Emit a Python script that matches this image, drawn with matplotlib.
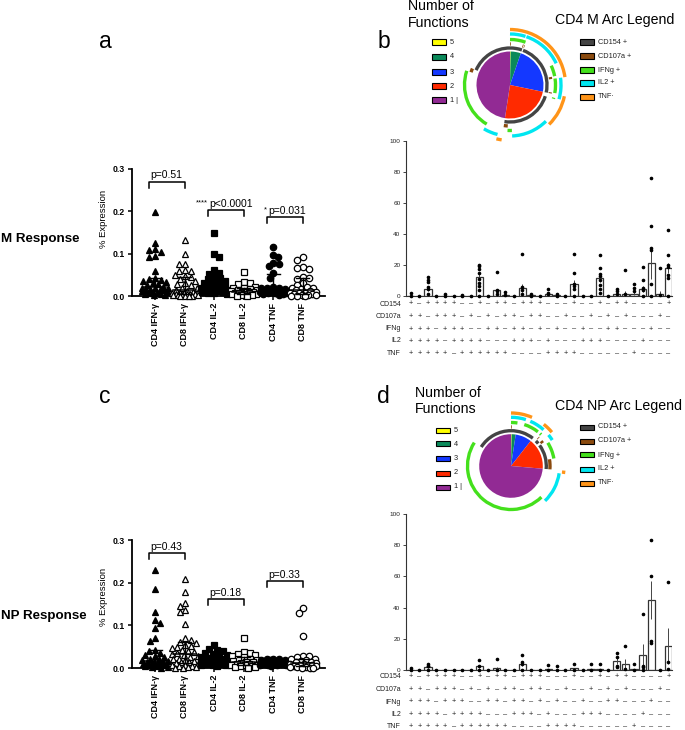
import numpy as np
import matplotlib
matplotlib.use("Agg")
import matplotlib.pyplot as plt
from matplotlib.patches import Arc, Rectangle

plt.rcParams["font.family"] = ["Liberation Sans", "DejaVu Sans"]

# ---------------- data ----------------
groups = ["CD4 IFN-γ", "CD8 IFN-γ", "CD4 IL-2", "CD8 IL-2", "CD4 TNF", "CD8 TNF"]

# M response (% expression per donor)
cd4_ifng_m = [0.199, 0.125, 0.11, 0.108, 0.105, 0.095, 0.093, 0.058, 0.042, 0.04, 0.038,
              0.035, 0.032, 0.03, 0.028, 0.025, 0.022, 0.02, 0.019, 0.018, 0.016, 0.015,
              0.014, 0.013, 0.012, 0.01, 0.009, 0.008, 0.006, 0.005, 0.004, 0.003, 0.002]
cd8_ifng_m = [0.133, 0.1, 0.075, 0.075, 0.062, 0.06, 0.058, 0.05, 0.047, 0.045, 0.04,
              0.035, 0.03, 0.028, 0.025, 0.02, 0.018, 0.015, 0.012, 0.01, 0.009, 0.008,
              0.007, 0.006, 0.005, 0.005, 0.004, 0.004, 0.003, 0.003, 0.002, 0.002, 0.001,
              0.001, 0.0, 0.0]
cd4_il2_m = [0.15, 0.1, 0.092, 0.061, 0.055, 0.053, 0.045, 0.042, 0.04, 0.035, 0.032, 0.03,
             0.028, 0.025, 0.022, 0.02, 0.02, 0.018, 0.016, 0.015, 0.014, 0.012, 0.01, 0.01,
             0.008, 0.006, 0.005]
cd8_il2_m = [0.056, 0.032, 0.03, 0.028, 0.022, 0.02, 0.018, 0.016, 0.015, 0.013, 0.012, 0.01,
             0.01, 0.009, 0.008, 0.007, 0.006, 0.005, 0.005, 0.004, 0.003, 0.002, 0.001, 0.0]
cd4_tnf_m = [0.116, 0.098, 0.091, 0.079, 0.075, 0.07, 0.054, 0.043, 0.022, 0.02, 0.019,
             0.018, 0.016, 0.015, 0.014, 0.012, 0.011, 0.01, 0.01, 0.009, 0.008, 0.007,
             0.006, 0.005, 0.004, 0.003]
cd8_tnf_m = [0.091, 0.086, 0.068, 0.066, 0.064, 0.045, 0.043, 0.041, 0.03, 0.025, 0.021,
             0.02, 0.019, 0.016, 0.014, 0.012, 0.01, 0.008, 0.007, 0.006, 0.005, 0.004,
             0.003, 0.002, 0.002, 0.001, 0.0, 0.0]

# NP response
cd4_ifng_np = [0.229, 0.184, 0.131, 0.112, 0.106, 0.094, 0.07, 0.063, 0.042, 0.04, 0.034,
               0.03, 0.028, 0.025, 0.022, 0.02, 0.018, 0.016, 0.015, 0.014, 0.013, 0.012,
               0.011, 0.01, 0.01, 0.009, 0.008, 0.007, 0.006, 0.005, 0.004, 0.003, 0.002,
               0.001]
cd8_ifng_np = [0.209, 0.179, 0.153, 0.145, 0.137, 0.131, 0.104, 0.07, 0.066, 0.062, 0.058,
               0.055, 0.052, 0.05, 0.047, 0.043, 0.04, 0.038, 0.035, 0.032, 0.03, 0.028,
               0.025, 0.022, 0.02, 0.018, 0.016, 0.015, 0.013, 0.011, 0.01, 0.008, 0.007,
               0.005, 0.004, 0.003, 0.002, 0.001, 0.0]
cd4_il2_np = [0.053, 0.045, 0.042, 0.04, 0.035, 0.032, 0.03, 0.028, 0.025, 0.022, 0.02, 0.02,
              0.018, 0.016, 0.015, 0.014, 0.013, 0.012, 0.011, 0.01, 0.01, 0.009, 0.008,
              0.007, 0.006, 0.005]
cd8_il2_np = [0.07, 0.038, 0.036, 0.033, 0.03, 0.028, 0.025, 0.022, 0.02, 0.018, 0.016,
              0.015, 0.013, 0.012, 0.01, 0.009, 0.008, 0.007, 0.006, 0.005, 0.004, 0.003,
              0.002, 0.001]
cd4_tnf_np = [0.021, 0.02, 0.02, 0.019, 0.018, 0.018, 0.017, 0.016, 0.015, 0.015, 0.014,
              0.013, 0.012, 0.012, 0.011, 0.011, 0.01, 0.01, 0.01, 0.009, 0.009, 0.008,
              0.008, 0.007, 0.006, 0.005]
cd8_tnf_np = [0.14, 0.13, 0.075, 0.028, 0.027, 0.025, 0.022, 0.02, 0.018, 0.016, 0.015,
              0.013, 0.012, 0.01, 0.009, 0.008, 0.007, 0.006, 0.005, 0.004, 0.003, 0.002,
              0.002, 0.001, 0.0, 0.0]

# comparisons: (group i, group j, bracket height, stars, label)
brackets_m = [(0, 1, 0.27, "", "p=0.51"), (2, 3, 0.203, "****", "p<0.0001"),
              (4, 5, 0.187, "*", "p=0.031")]
brackets_np = [(0, 1, 0.269, "", "p=0.43"), (2, 3, 0.161, "", "p=0.18"),
               (4, 5, 0.204, "", "p=0.33")]

# SPICE combinations, marker order CD154 / CD107a / IFNg / IL2 / TNF
markers = ["CD154", "CD107a", "IFNg", "IL2", "TNF"]
combos = ["+++++",
          "-++++", "+-+++", "++-++", "+++-+", "++++-",
          "--+++", "-+-++", "+--++", "-++-+", "+-+-+", "++--+", "-+++-", "+-++-", "++-+-", "+++--",
          "---++", "--+-+", "-+--+", "+---+", "--++-", "-+-+-", "+--+-", "-++--", "+-+--", "++---",
          "----+", "---+-", "--+--", "-+---", "+----"]

# CD4 M: mean % of response per combination, SEM, donor points
means_m = [0.3, 0.0, 4.5, 0.0, 0.3, 0.0, 0.3, 0.2, 12.0, 0.0, 3.8, 0.8, 0.0, 5.0, 0.4, 0.0,
           1.2, 0.4, 0.0, 7.5, 0.0, 0.0, 11.5, 0.0, 1.5, 1.5, 1.5, 4.5, 21.0, 1.5, 18.0]
sem_m = [0, 0, 1.3, 0, 0, 0, 0, 0, 2.0, 0, 1.0, 0.3, 0, 2.5, 0, 0,
         0.5, 0, 0, 2.5, 0, 0, 2.5, 0, 0.8, 1.6, 0.8, 2.0, 10.0, 1.6, 3.5]
dots_m = [[2, 0], [0], [12.4, 10.2, 8.8, 6, 4.3, 1], [0], [1, 0], [0], [0.5, 0], [0],
          [20, 19, 17.2, 15, 10.7, 8.6, 6.4, 3.6, 0], [0], [15.7, 4, 3, 1], [2.5, 0.5], [0],
          [26.8, 6, 4, 1], [1, 0], [0],
          [4.5, 2, 1], [1, 0], [0], [27, 14.6, 7.7, 6.4, 4.3, 0], [0], [0],
          [26.4, 18.2, 14.2, 13, 10.3, 7.3, 4.3, 1.7], [0], [4.5, 3.5, 1], [16.7, 1],
          [7.7, 5, 3], [18.9, 10.3, 5, 3.9, 0], [75.8, 45, 30.7, 29.6, 7.7, 0], [17.8, 0.5],
          [42.5, 26.4, 20, 18.9, 13.5, 11.8, 0]]

# CD4 NP
means_np = [0.3, 0.0, 2.0, 0.0, 0.0, 0.0, 0.0, 0.0, 2.5, 0.0, 1.5, 0.0, 0.0, 4.0, 0.0, 0.0,
            1.0, 0.5, 0.3, 1.5, 0.0, 1.0, 1.0, 0.0, 6.0, 4.0, 1.0, 10.0, 45.0, 0.0, 15.5]
sem_np = [0, 0, 0.6, 0, 0, 0, 0, 0, 0.8, 0, 0.8, 0, 0, 1.2, 0, 0,
          0, 0, 0, 0, 0, 0, 0, 0, 2.0, 3.0, 0, 7.0, 12.0, 0, 11.5]
dots_np = [[1.5, 0], [0], [4, 3, 2.5, 0], [0], [0], [0], [0], [0],
           [6.5, 2.5, 0], [0], [7, 0], [0], [0], [9.5, 5, 4, 0], [0], [0],
           [3.5, 0], [3, 0], [0], [4, 0], [0], [4, 0], [4, 0], [0],
           [11, 8.5, 3, 2], [15.5, 1], [4, 0], [36, 3, 2, 0], [83.5, 60, 19, 17.5], [0],
           [56.5, 5, 1]]

func_labels = ["5", "4", "3", "2", "1 |"]
func_colors = ["#ffff00", "#0a8a5a", "#1438ff", "#ff2a00", "#922a94"]
arc_labels = ["CD154 +", "CD107a +", "IFNg +", "IL2 +", "TNF·"]
arc_colors = ["#444444", "#8a4a0e", "#44e01c", "#00e6f0", "#ff9418"]

# ---------------- helpers ----------------
W, H = 685, 730
fig = plt.figure(figsize=(W / 100, H / 100), dpi=100)


def px_axes(x0, y0, x1, y1):
    """Axes from a pixel box measured from the top-left corner."""
    return fig.add_axes([x0 / W, 1 - y1 / H, (x1 - x0) / W, (y1 - y0) / H])


def ftext(x, y, s, **kw):
    fig.text(x / W, 1 - y / H, s, **kw)


def swarm(vals, ppu, cat_px=29.5, size_px=5.5, half_px=13.0):
    """Beeswarm offsets (in category units), placing points from the top down."""
    vals = np.asarray(vals, float)
    ys = vals * ppu
    cand = np.arange(-half_px, half_px + 0.01, 1.0)
    cand = cand[np.argsort(np.abs(cand) + (cand > 0) * 0.01, kind="stable")]
    px_, py_ = [], []
    offs = np.zeros(len(vals))
    for n, i in enumerate(np.argsort(-vals, kind="stable")):
        sign = 1 if n % 2 else -1
        best, best_d = 0.0, -1.0
        for c in cand * sign:
            d = np.min(np.hypot(np.array(px_) - c, np.array(py_) - ys[i])) if px_ else np.inf
            if d >= size_px:
                best = c
                break
            if d > best_d:
                best, best_d = c, d
        offs[i] = best
        px_.append(best)
        py_.append(ys[i])
    return offs / cat_px


def scatter_panel(top, bottom, series, brackets):
    ax = px_axes(132, top, 325, bottom)
    ppu = (bottom - top) / 0.3
    shapes = ["^", "^", "s", "s", "o", "o"]
    sizes = [4.6, 4.6, 4.0, 4.0, 4.6, 4.6]
    for i, vals in enumerate(series):
        vals = np.asarray(vals, float)
        filled = i % 2 == 0
        ax.plot(i + swarm(vals, ppu), vals, ls="none", marker=shapes[i], ms=sizes[i],
                mfc="black" if filled else "white", mec="black", mew=0.9,
                clip_on=False, zorder=3)
        med = np.median(vals)
        q1, q3 = np.percentile(vals, [25, 75])
        ax.plot([i - 0.38, i + 0.38], [med, med], color="black", lw=1.1, zorder=4)
        ax.plot([i, i], [q1, q3], color="black", lw=1.0, zorder=4)
        for q in (q1, q3):
            ax.plot([i - 0.22, i + 0.22], [q, q], color="black", lw=1.0, zorder=4)
    for i, j, y, stars, label in brackets:
        x0, x1 = i - 0.22, j + 0.02
        ax.plot([x0, x0, x1, x1], [y - 0.014, y, y, y - 0.014], color="black", lw=1.1,
                clip_on=False)
        ax.text(x0 + 0.05, y + 0.003, label, ha="left", va="bottom", fontsize=7.5)
        if stars:
            ax.text(x0, y + 0.009, stars, ha="right", va="bottom", fontsize=5.5)
    ax.set_xlim(-0.78, 5.76)
    ax.set_ylim(0, 0.3)
    for s in ("top", "right"):
        ax.spines[s].set_visible(False)
    for s in ("left", "bottom"):
        ax.spines[s].set_linewidth(1.3)
    ax.set_yticks([0, 0.1, 0.2, 0.3])
    ax.set_yticklabels(["0.0", "0.1", "0.2", "0.3"], fontsize=6.2, fontweight="bold")
    ax.set_xticks(range(len(groups)))
    ax.set_xticklabels(groups, rotation=90, fontsize=6.5, fontweight="bold")
    ax.tick_params(length=3, width=1.1, pad=2)
    ax.patch.set_alpha(0)
    return ax


def bar_panel(top, bottom, means, sem, dots, row_ys):
    ax = px_axes(406, top, 672, bottom)
    xs = np.arange(len(combos))
    ax.bar(xs, means, width=0.84, facecolor="white", edgecolor="#333333", lw=0.9, zorder=2)
    ax.errorbar(xs, means, yerr=sem, fmt="none", ecolor="#444444", elinewidth=0.7,
                capsize=0, zorder=3)
    for i, d in enumerate(dots):
        ax.plot([i] * len(d), d, ls="none", marker="o", ms=1.6, color="black",
                clip_on=False, zorder=4)
    ax.set_xlim(-0.55, 30.42)
    ax.set_ylim(0, 100)
    for s in ("top", "right"):
        ax.spines[s].set_visible(False)
    for s in ("left", "bottom"):
        ax.spines[s].set_linewidth(0.8)
        ax.spines[s].set_color("#333333")
    ax.set_xticks([])
    ax.set_yticks(range(0, 101, 20))
    ax.tick_params(axis="y", length=2.5, width=0.6, pad=1.5, labelsize=4.6,
                   colors="#222222")
    h = bottom - top
    for k, (name, y) in enumerate(zip(markers, row_ys)):
        ftext(401, y, name, fontsize=5, ha="right", va="center", color="#222222")
        for i, c in enumerate(combos):
            ax.text(i, (bottom - y) / h, c[k].replace("-", "–"),
                    transform=ax.get_xaxis_transform(),
                    ha="center", va="center", fontsize=5.3, color="#222222")
    return ax


def pie_panel(cx, cy, r_pie, means, ring_r):
    ax = px_axes(cx - 70, cy - 70, cx + 70, cy + 70)
    means = np.asarray(means, float)
    nfun = np.array([c.count("+") for c in combos])
    sizes = [means[nfun == k].sum() for k in (5, 4, 3, 2, 1)]
    ax.pie(sizes, colors=func_colors, radius=r_pie, startangle=90, counterclock=False,
           wedgeprops=dict(linewidth=0))
    edges = np.concatenate([[0], np.cumsum(means / means.sum())]) * 360
    for k, (col, rr) in enumerate(zip(arc_colors, ring_r)):
        runs, start = [], None
        for c, a0, a1 in zip(combos, edges[:-1], edges[1:]):
            if a1 - a0 <= 0:
                continue
            if c[k] == "+":
                if start is None:
                    start = a0
                end = a1
            elif start is not None:
                runs.append((start, end))
                start = None
        if start is not None:
            runs.append((start, end))
        for a0, a1 in runs:
            ax.add_patch(Arc((0, 0), 2 * rr, 2 * rr, theta1=90 - a1, theta2=90 - a0,
                             color=col, lw=2.4))
    ax.set_xlim(-70, 70)
    ax.set_ylim(-70, 70)
    ax.set_aspect("equal")
    ax.axis("off")
    return ax


def legend_boxes(x0, ys, colors, labels, w=14, h=5):
    for y, c, lab in zip(ys, colors, labels):
        fig.add_artist(Rectangle((x0 / W, 1 - (y + h / 2) / H), w / W, h / H,
                                 transform=fig.transFigure, facecolor=c,
                                 edgecolor="black", lw=0.8))
        ftext(x0 + w + 4, y, lab, fontsize=5.3, ha="left", va="center", color="#222222")


# ---------------- panels a / c ----------------
scatter_panel(169, 296, [cd4_ifng_m, cd8_ifng_m, cd4_il2_m, cd8_il2_m, cd4_tnf_m, cd8_tnf_m],
              brackets_m)
scatter_panel(540, 668, [cd4_ifng_np, cd8_ifng_np, cd4_il2_np, cd8_il2_np, cd4_tnf_np,
                         cd8_tnf_np], brackets_np)
ftext(103, 219, "% Expression", rotation=90, fontsize=6.8, ha="center", va="center")
ftext(103, 597, "% Expression", rotation=90, fontsize=6.8, ha="center", va="center")
ftext(1, 239, "M Response", fontsize=9.6, fontweight="bold", ha="left", va="center")
ftext(1, 616, "NP Response", fontsize=9.6, fontweight="bold", ha="left", va="center")

# ---------------- panels b / d ----------------
bar_panel(140.7, 296, means_m, sem_m, dots_m, [304, 316.5, 329, 341, 353.5])
bar_panel(513.7, 670.3, means_np, sem_np, dots_np, [676.7, 689.5, 702, 714.3, 726.5])

pie_panel(510, 85, 33.5, means_m, [37, 41, 45.5, 51, 55.5])
pie_panel(511, 466, 31.8, means_np, [35.3, 39, 43.5, 48.7, 53])

legend_boxes(432, [42, 57, 72, 86, 100], func_colors, func_labels)
legend_boxes(580, [42, 56, 70, 83, 97], arc_colors, arc_labels)
legend_boxes(436, [430, 444, 458, 473, 487], func_colors, func_labels)
legend_boxes(580, [427, 441, 455, 469, 483], arc_colors, arc_labels)

ftext(408, 10.5, "Number of", fontsize=10.2, ha="left", va="baseline")
ftext(408, 26.7, "Functions", fontsize=10.2, ha="left", va="baseline")
ftext(555, 24, "CD4 M Arc Legend", fontsize=10.2, ha="left", va="baseline")
ftext(415, 396.7, "Number of", fontsize=10.2, ha="left", va="baseline")
ftext(415, 413, "Functions", fontsize=10.2, ha="left", va="baseline")
ftext(555, 410, "CD4 NP Arc Legend", fontsize=10.2, ha="left", va="baseline")

# panel letters
ftext(105, 48, "a", fontsize=16.5, ha="center", va="baseline")
ftext(384, 48, "b", fontsize=16.5, ha="center", va="baseline")
ftext(105, 403, "c", fontsize=16.5, ha="center", va="baseline")
ftext(383, 403, "d", fontsize=16.5, ha="center", va="baseline")

fig.savefig("out.png", dpi=100)
